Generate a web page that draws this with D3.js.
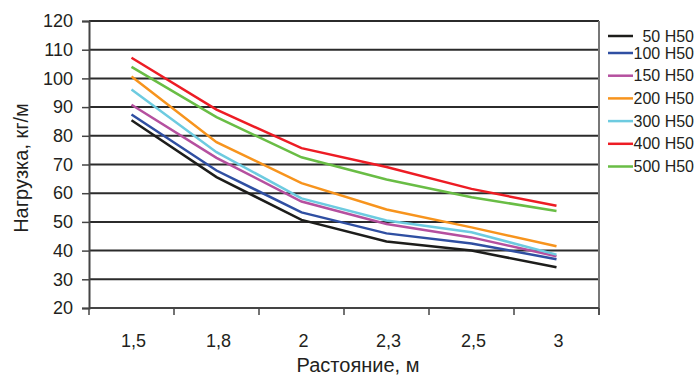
<!DOCTYPE html>
<html>
<head>
<meta charset="utf-8">
<script src="https://cdn.jsdelivr.net/npm/d3@7"></script>
<style>
  body { margin: 0; background: #fff; }
  text { font-family: "Liberation Sans", Arial, sans-serif; fill: #231f20; }
</style>
</head>
<body>
<script>
const width = 697, height = 376;

// categories on the x axis
const distances = ["1,5", "1,8", "2", "2,3", "2,5", "3"];
const yTicks = [20, 30, 40, 50, 60, 70, 80, 90, 100, 110, 120];

const seriesNames = ["50 H50", "100 H50", "150 H50", "200 H50", "300 H50", "400 H50", "500 H50"];
const seriesColors = ["#1d1d1b", "#2f4fa2", "#b5509f", "#f7941d", "#6dcbe0", "#ed1c24", "#69bd45"];

const load50  = [85.4, 65.6, 50.7, 43.2, 40.0, 34.2];
const load100 = [87.4, 67.9, 53.3, 46.0, 42.5, 37.0];
const load150 = [90.8, 72.3, 57.1, 49.3, 44.6, 38.0];
const load200 = [100.7, 77.8, 63.5, 54.3, 48.1, 41.5];
const load300 = [96.1, 74.3, 58.2, 50.5, 46.4, 38.6];
const load400 = [107.2, 89.1, 75.7, 69.1, 61.5, 55.6];
const load500 = [104.0, 86.5, 72.5, 64.8, 58.6, 53.8];

const seriesValues = [load50, load100, load150, load200, load300, load400, load500];

const margin = { left: 89, right: 98, top: 21, bottom: 68 };

const svg = d3.select("body")
    .append("svg")
    .attr("width", width)
    .attr("height", height);

const x = d3.scaleBand()
    .domain(distances)
    .range([margin.left, width - margin.right]);

const y = d3.scaleLinear()
    .domain([20, 120])
    .range([height - margin.bottom, margin.top]);

// horizontal grid lines
svg.append("g")
    .selectAll("line")
    .data(yTicks)
    .enter()
    .append("line")
    .attr("x1", margin.left)
    .attr("x2", width - margin.right)
    .attr("y1", d => y(d))
    .attr("y2", d => y(d))
    .attr("stroke", "#2b2b2b")
    .attr("stroke-width", 2);

// right border
svg.append("line")
    .attr("x1", width - margin.right)
    .attr("x2", width - margin.right)
    .attr("y1", margin.top)
    .attr("y2", height - margin.bottom + 7)
    .attr("stroke", "#777")
    .attr("stroke-width", 2);

// y axis
const yAxis = svg.append("g")
    .attr("transform", `translate(${margin.left},0)`)
    .call(d3.axisLeft(y).tickValues(yTicks).tickSize(7).tickPadding(9));
yAxis.select(".domain").attr("stroke", "#444").attr("stroke-width", 2);
yAxis.selectAll(".tick line").attr("stroke", "#444").attr("stroke-width", 1.5);
yAxis.selectAll("text")
    .attr("font-size", 18)
    .attr("fill", "#231f20")
    .attr("font-family", "Liberation Sans, Arial, sans-serif");

// x axis, ticks between categories
const xAxis = svg.append("g")
    .attr("transform", `translate(0,${height - margin.bottom})`);
xAxis.append("line")
    .attr("x1", margin.left)
    .attr("x2", width - margin.right)
    .attr("stroke", "#444")
    .attr("stroke-width", 2);
xAxis.selectAll(".xtick")
    .data(distances.concat([null]))
    .enter()
    .append("line")
    .attr("x1", (d, i) => margin.left + i * x.bandwidth())
    .attr("x2", (d, i) => margin.left + i * x.bandwidth())
    .attr("y1", 0)
    .attr("y2", 7)
    .attr("stroke", "#444")
    .attr("stroke-width", 1.5);
xAxis.selectAll(".xlabel")
    .data(distances)
    .enter()
    .append("text")
    .attr("x", d => x(d) + x.bandwidth() / 2 + 2)
    .attr("y", 39)
    .attr("text-anchor", "middle")
    .attr("font-size", 18)
    .text(d => d);

// axis titles
svg.append("text")
    .attr("x", 358)
    .attr("y", 372)
    .attr("text-anchor", "middle")
    .attr("font-size", 20)
    .text("Растояние, м");

svg.append("text")
    .attr("transform", "translate(28,168) rotate(-90)")
    .attr("text-anchor", "middle")
    .attr("font-size", 20)
    .text("Нагрузка, кг/м");

// series lines
const line = d3.line()
    .x((d, i) => x(distances[i]) + x.bandwidth() / 2)
    .y(d => y(d));

svg.append("g")
    .selectAll("path")
    .data(seriesValues)
    .enter()
    .append("path")
    .attr("d", line)
    .attr("fill", "none")
    .attr("stroke", (d, i) => seriesColors[i])
    .attr("stroke-width", 2.5);

// legend
const legend = svg.append("g")
    .selectAll("g")
    .data(seriesNames)
    .enter()
    .append("g")
    .attr("transform", (d, i) => `translate(0,${i === 0 ? 36 : 53 + (i - 1) * 22.7})`);

legend.append("line")
    .attr("x1", 608)
    .attr("x2", 633)
    .attr("stroke", (d, i) => seriesColors[i])
    .attr("stroke-width", 2.5);

legend.append("text")
    .attr("x", 694)
    .attr("y", 5.5)
    .attr("text-anchor", "end")
    .attr("font-size", 16)
    .text(d => d);
</script>
</body>
</html>
